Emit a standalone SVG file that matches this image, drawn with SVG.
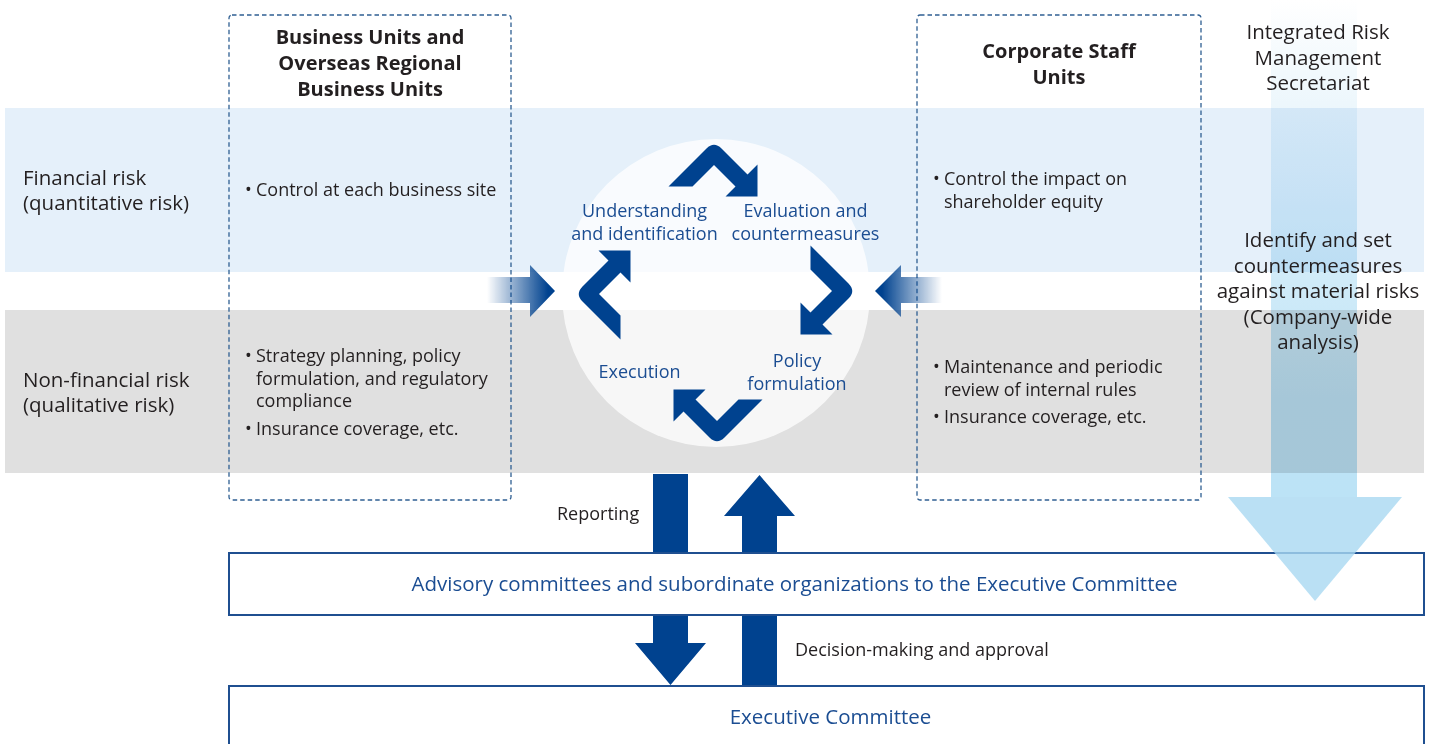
<svg xmlns="http://www.w3.org/2000/svg" width="1434" height="744" viewBox="0 0 1434 744">
<style>
text{font-family:"Open Sans","Noto Sans","Liberation Sans",sans-serif;fill:#231f20}
.b{font-size:18px}
.lab{font-size:20.5px}
.h{font-size:20px;font-weight:bold;text-anchor:middle}
.c{text-anchor:middle}
.blue{fill:#1b4d92}
.dash{fill:none;stroke:#2f5f92;stroke-width:1.3;stroke-dasharray:4.5 3}
.box{fill:#fff;stroke:#1f4f90;stroke-width:2}
.dk{fill:#00428f}
</style>
<defs>
<linearGradient id="gL" gradientUnits="userSpaceOnUse" x1="487" y1="0" x2="548" y2="0">
<stop offset="0" stop-color="#00428f" stop-opacity="0"/>
<stop offset="1" stop-color="#00428f" stop-opacity="1"/>
</linearGradient>
<linearGradient id="gR" gradientUnits="userSpaceOnUse" x1="942" y1="0" x2="882" y2="0">
<stop offset="0" stop-color="#00428f" stop-opacity="0"/>
<stop offset="1" stop-color="#00428f" stop-opacity="1"/>
</linearGradient>
<linearGradient id="gS" gradientUnits="userSpaceOnUse" x1="0" y1="0" x2="0" y2="497">
<stop offset="0" stop-color="#ffffff"/>
<stop offset="0.12" stop-color="#f4fafd"/>
<stop offset="0.8" stop-color="#bde3f6"/>
<stop offset="1" stop-color="#bce3f6"/>
</linearGradient>
<path id="chev" d="M-45.5 45.5 L-7.5 7.5 Q0 0 7.5 7.5 L33.5 33.5 L43.5 23.5 L43.5 55.5 L11.5 55.5 L21.5 45.5 L0 24 L-21.5 45.5 Z"/>
</defs>

<g id="bands">
<rect x="5" y="108" width="1419" height="164" fill="#e5f0fa"/>
<rect x="5" y="310" width="1419" height="163" fill="#e0e0e0"/>
</g>

<g id="row-labels">
<text class="lab" x="23" y="185">Financial risk</text>
<text class="lab" x="23" y="210">(quantitative risk)</text>
<text class="lab" x="23" y="387">Non-financial risk</text>
<text class="lab" x="23" y="412">(qualitative risk)</text>
</g>

<g id="business-units">
<rect class="dash" x="229" y="15" width="282" height="485" rx="3"/>
<text class="h" x="370" y="44">Business Units and</text>
<text class="h" x="370" y="70">Overseas Regional</text>
<text class="h" x="370" y="96">Business Units</text>
<text class="b" y="196"><tspan x="245">•</tspan><tspan x="256">Control at each business site</tspan></text>
<text class="b" y="362"><tspan x="245">•</tspan><tspan x="256">Strategy planning, policy</tspan></text>
<text class="b" x="256" y="385">formulation, and regulatory</text>
<text class="b" x="256" y="407">compliance</text>
<text class="b" y="435"><tspan x="245">•</tspan><tspan x="256">Insurance coverage, etc.</tspan></text>
</g>

<g id="corporate-staff">
<rect class="dash" x="917" y="15" width="284" height="485" rx="3"/>
<text class="h" x="1059" y="58">Corporate Staff</text>
<text class="h" x="1059" y="84">Units</text>
<text class="b" y="185"><tspan x="933">•</tspan><tspan x="944">Control the impact on</tspan></text>
<text class="b" x="944" y="208">shareholder equity</text>
<text class="b" y="373"><tspan x="933">•</tspan><tspan x="944">Maintenance and periodic</tspan></text>
<text class="b" x="944" y="396">review of internal rules</text>
<text class="b" y="423"><tspan x="933">•</tspan><tspan x="944">Insurance coverage, etc.</tspan></text>
</g>

<g id="cycle">
<circle cx="716" cy="293" r="154" fill="#ffffff" fill-opacity="0.75"/>
<use href="#chev" class="dk" transform="translate(714,141)"/>
<use href="#chev" class="dk" transform="translate(856,291) rotate(90)"/>
<use href="#chev" class="dk" transform="translate(717,445) rotate(180)"/>
<use href="#chev" class="dk" transform="translate(575,294) rotate(270)"/>
<text class="b c blue" x="644.5" y="217">Understanding</text>
<text class="b c blue" x="644.5" y="240">and identification</text>
<text class="b c blue" x="805.5" y="217">Evaluation and</text>
<text class="b c blue" x="805.5" y="240">countermeasures</text>
<text class="b c blue" x="797" y="367">Policy</text>
<text class="b c blue" x="797" y="390">formulation</text>
<text class="b c blue" x="639.5" y="378">Execution</text>
</g>

<g id="connectors">
<path d="M487 277 H530 V265 L555 291 L530 317 V303 H487 Z" fill="url(#gL)"/>
<path d="M942 277 H901 V265 L875 291 L901 317 V303 H942 Z" fill="url(#gR)"/>
<rect class="dk" x="653" y="474" width="35" height="80"/>
<path class="dk" d="M742 554 V516 H724 L759.5 475 L795 516 H777 V554 Z"/>
<path class="dk" d="M653 614 H688 V643 H706 L670.5 685 L635 643 H653 Z"/>
<rect class="dk" x="742" y="614" width="35" height="73"/>
<text class="b" x="557" y="520">Reporting</text>
<text class="b" x="795" y="656">Decision-making and approval</text>
</g>

<g id="advisory">
<rect class="box" x="229" y="553" width="1195" height="62"/>
<text class="lab c blue" x="794.5" y="591">Advisory committees and subordinate organizations to the Executive Committee</text>
</g>

<g id="executive">
<rect class="box" x="229" y="686" width="1195" height="70"/>
<text class="lab c blue" x="830.5" y="724">Executive Committee</text>
</g>

<g id="secretariat">
<rect x="1271" y="0" width="86" height="497" fill="url(#gS)" style="mix-blend-mode:multiply"/>
<path d="M1228 497 H1402 L1315 601 Z" fill="#a9d8f1" fill-opacity="0.8"/>
<text class="lab c" x="1318" y="39">Integrated Risk</text>
<text class="lab c" x="1318" y="65">Management</text>
<text class="lab c" x="1318" y="90">Secretariat</text>
<text class="lab c" x="1318" y="247">Identify and set</text>
<text class="lab c" x="1318" y="273">countermeasures</text>
<text class="lab c" x="1318" y="298">against material risks</text>
<text class="lab c" x="1318" y="324">(Company-wide</text>
<text class="lab c" x="1318" y="349">analysis)</text>
</g>
</svg>
